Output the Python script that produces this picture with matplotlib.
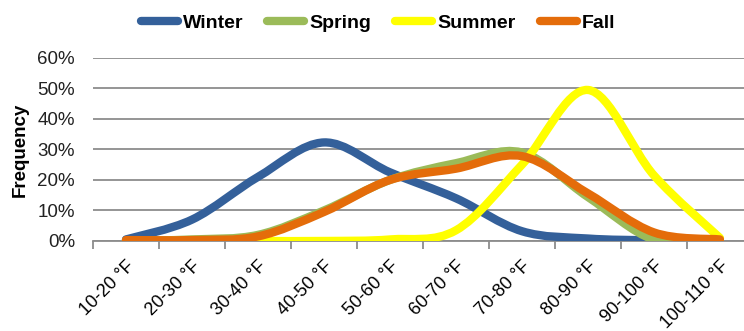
import numpy as np
import matplotlib
matplotlib.use("Agg")
from matplotlib import pyplot as plt
from matplotlib.path import Path
from matplotlib.patches import PathPatch
from matplotlib.lines import Line2D

plt.rcParams['font.family'] = ['Liberation Sans', 'DejaVu Sans']

bins = ['10-20 °F', '20-30 °F', '30-40 °F', '40-50 °F', '50-60 °F',
        '60-70 °F', '70-80 °F', '80-90 °F', '90-100 °F', '100-110 °F']

# frequency per temperature bin, in percent
winter = [0.5, 7, 21, 32.3, 22.5, 14, 3.2, 0.8, 0.2, 0]
spring = [0, 0.5, 2, 10, 20, 25.5, 29, 14.4, 0.4, 0]
summer = [0, 0, 0, 0, 0.5, 3.5, 25, 49.5, 21.5, 1]
fall = [0.3, 0.3, 1.5, 9.5, 20, 23.7, 27.8, 15.6, 2.8, 0.5]

names = ['Winter', 'Spring', 'Summer', 'Fall']
colors = ['#34609A', '#9BBB59', '#FFFF00', '#E46C0A']


def smooth_path(xs, ys):
    # cubic bezier through every point (catmull-rom style control points)
    pts = np.column_stack([xs, ys]).astype(float)
    n = len(pts)
    verts = [pts[0]]
    codes = [Path.MOVETO]
    for i in range(n - 1):
        p0 = pts[max(i - 1, 0)]
        p1 = pts[i]
        p2 = pts[i + 1]
        p3 = pts[min(i + 2, n - 1)]
        c1 = p1 + (p2 - p0) / 6
        c2 = p2 - (p3 - p1) / 6
        verts += [c1, c2, p2]
        codes += [Path.CURVE4] * 3
    return Path(verts, codes)


fig = plt.figure(figsize=(7.44, 3.31), dpi=100)
ax = fig.add_axes([0.125, 0.272, 0.887, 0.553])

x = np.arange(len(bins))
lw = 6
for vals, c in zip([winter, spring, summer, fall], colors):
    p = smooth_path(x, np.array(vals) / 100)
    ax.add_patch(PathPatch(p, facecolor='none', edgecolor=c, lw=lw,
                           capstyle='round', joinstyle='round', zorder=3))

ax.set_xlim(-0.5, 9.5)
ax.set_ylim(0, 0.6)
ax.set_yticks(np.arange(0, 0.61, 0.1))
ax.set_yticklabels([f'{v}%' for v in range(0, 61, 10)], fontsize=13.5)
ax.yaxis.grid(True, color='#8C8C8C', lw=1.3)
ax.set_axisbelow(True)
ax.tick_params(axis='y', length=0, pad=13, colors='#222222')

ax.set_xticks(x)
ax.set_xticklabels(bins, rotation=45, ha='right', va='top',
                   rotation_mode='anchor', fontsize=13)
ax.set_xticks(np.arange(-0.5, 9.6, 1), minor=True)
ax.tick_params(axis='x', which='major', length=0, pad=12)
ax.tick_params(axis='x', which='minor', length=6, width=1.3, color='#8C8C8C')

for s in ['top', 'right', 'left']:
    ax.spines[s].set_visible(False)
ax.spines['bottom'].set_color('#8C8C8C')
ax.spines['bottom'].set_linewidth(1.3)

ax.set_ylabel('Frequency', fontsize=13.5, fontweight='bold')
ax.yaxis.set_label_coords(-0.098, 0.5)

handles = [Line2D([], [], color=c, lw=lw, solid_capstyle='round') for c in colors]
fig.legend(handles, names, loc='center', bbox_to_anchor=(0.508, 0.93), ncol=4,
           frameon=False, handlelength=1.9, handletextpad=0.25,
           columnspacing=1.25, prop={'weight': 'bold', 'size': 14})

fig.savefig('out.png', dpi=100)
